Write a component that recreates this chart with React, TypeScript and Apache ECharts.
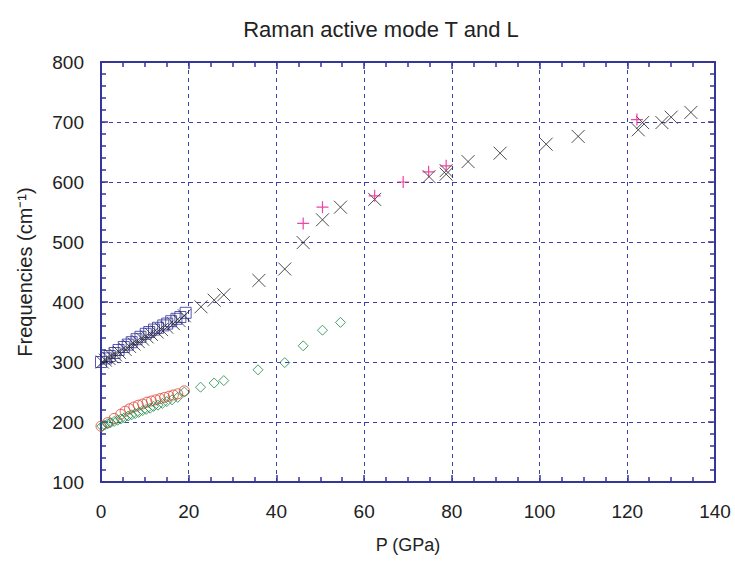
import React, { useEffect, useRef } from "react";
import * as echarts from "echarts";

const titleText = "Raman active mode T and L";
const xName = "P (GPa)";
const yName = "Frequencies (cm⁻¹)";

const xTicks = { min: 0, max: 140, interval: 20 };
const yTicks = { min: 100, max: 800, interval: 100 };

const squareP = [0, 1.2, 2.0, 3.1, 4.0, 5.2, 6.1, 7.0, 8.1, 9.0, 10.2, 11.0, 12.1, 13.0, 14.2, 15.1, 16.0, 17.2, 18.1, 19.3];
const squareF = [300, 306, 310, 315, 320, 325, 329, 333, 338, 342, 347, 350, 354, 357, 361, 364, 368, 372, 375, 382];

const crossP = [0.3, 1.0, 1.8, 2.5, 3.3, 4.2, 5.5, 6.5, 7.5, 8.5, 9.5, 10.5, 11.5, 12.8, 13.8, 15.0, 16.5, 17.8, 19.0, 22.8, 25.8, 28.0, 36.0, 41.9, 46.1, 50.5, 54.6, 62.4, 74.8, 78.7, 78.7, 83.7, 91.0, 101.5, 108.8, 122.5, 123.5, 127.9, 130.0, 134.5];
const crossF = [300, 303, 306, 309, 312, 316, 321, 326, 330, 334, 338, 342, 346, 350, 354, 358, 364, 369, 377, 392, 403, 412, 436, 455, 499, 537, 558, 571, 609, 613, 619, 634, 648, 663, 676, 687, 699, 699, 708, 716];

const plusP = [46.1, 50.5, 62.4, 68.9, 74.7, 78.7, 122.2];
const plusF = [531, 558, 577, 600, 617, 627, 704];

const circleP = [0, 1.5, 3, 4.5, 5.5, 6.5, 7.5, 8.5, 9.5, 10.5, 11.5, 12.5, 13.5, 14.5, 15.5, 16.5, 17.5, 19];
const circleF = [193, 199, 206, 213, 218, 222, 225, 228, 230, 233, 235, 237, 239, 241, 243, 245, 247, 252];

const diamondP = [0.2, 0.8, 1.5, 2.2, 3.0, 3.8, 4.5, 5.3, 6.2, 7.0, 7.8, 8.6, 9.5, 10.3, 11.2, 12.0, 13.0, 14.0, 15.0, 16.2, 17.5, 19.0, 22.7, 25.8, 28.0, 35.8, 41.9, 46.1, 50.5, 54.6];
const diamondF = [193, 195, 197, 199, 201, 203, 205, 207, 210, 212, 214, 216, 219, 221, 223, 226, 228, 231, 234, 237, 241, 250, 258, 265, 269, 287, 299, 327, 353, 366];

const zip = (a: number[], b: number[]) => a.map((v, i) => [v, b[i]]);

const FONT = "'Liberation Sans', Arial, sans-serif";
const AXIS_COLOR = "#35359a";
const GRID_COLOR = "#3d3da6";

function axisBase(t: { min: number; max: number; interval: number }, minorSplit: number) {
  return {
    type: "value" as const,
    min: t.min,
    max: t.max,
    interval: t.interval,
    axisLine: { show: true, onZero: false, lineStyle: { color: AXIS_COLOR, width: 2 } },
    axisTick: { show: true, inside: true, length: 7, lineStyle: { color: AXIS_COLOR, width: 1.5 } },
    minorTick: { show: true, splitNumber: minorSplit, length: 5, lineStyle: { color: AXIS_COLOR, width: 1.5 } },
  };
}

export default function App() {
  const ref = useRef<HTMLDivElement>(null);
  useEffect(() => {
    if (!ref.current) return;
    const chart = echarts.init(ref.current, undefined, { renderer: "svg" });
    const hollow = (c: string, w = 1) => ({ color: "transparent", borderColor: c, borderWidth: w });
    chart.setOption({
      animation: false,
      backgroundColor: "#ffffff",
      grid: { left: 101, right: 20, top: 62, bottom: 97 },
      graphic: [
        {
          type: "text",
          x: 381,
          y: 29,
          style: {
            text: titleText,
            fill: "#222",
            font: `22px ${FONT}`,
            textAlign: "center",
            textVerticalAlign: "middle",
          },
        },
      ],
      xAxis: [
        {
          ...axisBase(xTicks, 4),
          position: "bottom",
          name: xName,
          nameLocation: "middle",
          nameGap: 54,
          nameTextStyle: { color: "#222", fontSize: 18, fontFamily: FONT },
          splitLine: { show: true, lineStyle: { color: GRID_COLOR, type: [4, 4], width: 1 } },
          axisLabel: { color: "#222", fontSize: 19, fontFamily: FONT, margin: 20 },
        },
        {
          ...axisBase(xTicks, 4),
          position: "top",
          splitLine: { show: false },
          axisLabel: { show: false },
        },
      ],
      yAxis: [
        {
          ...axisBase(yTicks, 5),
          position: "left",
          name: yName,
          nameLocation: "middle",
          nameGap: 66,
          nameTextStyle: { color: "#222", fontSize: 20, fontFamily: FONT },
          splitLine: { show: true, lineStyle: { color: GRID_COLOR, type: [4, 4], width: 1 } },
          axisLabel: { color: "#222", fontSize: 19, fontFamily: FONT, margin: 17 },
        },
        {
          ...axisBase(yTicks, 5),
          position: "right",
          splitLine: { show: false },
          axisLabel: { show: false },
        },
      ],
      series: [
        {
          name: "T (squares)",
          type: "scatter",
          xAxisIndex: 0,
          yAxisIndex: 0,
          data: zip(squareP, squareF),
          symbol: "rect",
          symbolSize: 11,
          itemStyle: hollow("#2f2fa0", 1),
        },
        {
          name: "T (crosses)",
          type: "scatter",
          xAxisIndex: 0,
          yAxisIndex: 0,
          data: zip(crossP, crossF),
          symbol: "path://M0,0L10,10M10,0L0,10",
          symbolSize: 13,
          itemStyle: hollow("#222222", 1),
        },
        {
          name: "T (plus)",
          type: "scatter",
          xAxisIndex: 0,
          yAxisIndex: 0,
          data: zip(plusP, plusF),
          symbol: "path://M5,0L5,10M0,5L10,5",
          symbolSize: 12,
          itemStyle: hollow("#e8178a", 1.2),
        },
        {
          name: "L (circles)",
          type: "scatter",
          xAxisIndex: 0,
          yAxisIndex: 0,
          data: zip(circleP, circleF),
          symbol: "circle",
          symbolSize: 10,
          itemStyle: hollow("#e0402e", 1),
        },
        {
          name: "L (diamonds)",
          type: "scatter",
          xAxisIndex: 0,
          yAxisIndex: 0,
          data: zip(diamondP, diamondF),
          symbol: "diamond",
          symbolSize: 10,
          itemStyle: hollow("#168a45", 1),
        },
      ],
    });
    return () => chart.dispose();
  }, []);
  return <div ref={ref} style={{ width: 735, height: 579, position: "absolute", left: 0, top: 0 }} />;
}
